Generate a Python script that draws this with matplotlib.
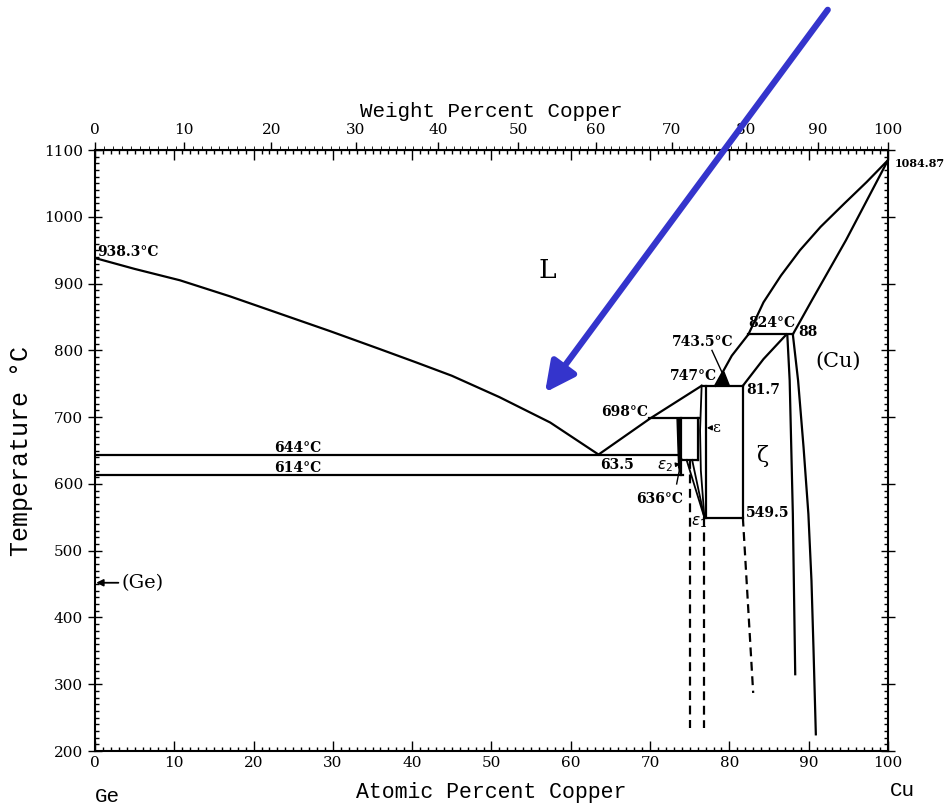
import numpy as np
import matplotlib.pyplot as plt
from matplotlib.ticker import MultipleLocator

# Ge-Cu phase diagram, boundaries (at.% Cu, deg C)
liq_left_x = [0, 5, 10.7, 17, 23.3, 29.6, 35.9, 40.5, 45, 51, 57.4, 63.5]
liq_left_t = [938.3, 922, 905, 881, 855, 829, 802, 782, 762, 730, 692, 644]
liq_right_x = [63.5, 70.0, 76.5]
liq_right_t = [644, 698, 747]
liq_zeta_x = [78.2, 80.3, 82.4]
liq_zeta_t = [747, 792, 824]
zeta_top_x = [81.7, 84.3, 87.2]
zeta_top_t = [747, 787, 824]
liq_cu_x = [82.4, 84.3, 86.5, 88.9, 91.5, 94.5, 97.3, 100]
liq_cu_t = [824, 872, 912, 950, 985, 1020, 1052, 1084.87]
sol_cu_x = [88.0, 90.4, 94.7, 100]
sol_cu_t = [824, 875, 965, 1084.87]
solv_cu1_x = [87.3, 87.6, 88.0, 88.3]
solv_cu1_t = [824, 755, 555, 315]
solv_cu2_x = [88.0, 88.66, 89.35, 89.96, 90.35, 90.6, 90.9]
solv_cu2_t = [824, 755, 655, 555, 455, 355, 225]
eps_left_x = [76.5, 76.3, 76.4, 76.85]
eps_left_t = [747, 680, 620, 549.5]

# invariant lines: (temperature, x start, x end)
isotherms = [(644, 0, 73.6), (614, 0, 74.2), (698, 69.9, 76.2), (747, 76.5, 81.7),
             (549.5, 76.85, 81.7), (636, 73.85, 76.1), (824, 82.4, 88.0)]
# vertical phase limits: (x, t top, t bottom)
verticals = [(73.85, 698, 614), (76.1, 698, 636), (77.1, 747, 549.5), (81.7, 747, 549.5)]
# dashed (uncertain) boundaries
dashed = [([75.0, 75.0], [636, 235]), ([76.8, 76.8], [549.5, 235]), ([81.7, 83.0], [549.5, 287])]

wt_ticks = np.arange(0, 101, 10)


def at2wt(a):
    a = np.asarray(a, dtype=float)
    return 100 * a * 63.546 / (a * 63.546 + (100 - a) * 72.63)


def wt2at(w):
    w = np.asarray(w, dtype=float)
    return 100 * (w / 63.546) / (w / 63.546 + (100 - w) / 72.63)


fig = plt.figure(figsize=(9.47, 8.08), dpi=100)
ax = fig.add_axes([0.1003, 0.0705, 0.8374, 0.7438])
lw = 1.6
k = 'black'

ax.plot(liq_left_x, liq_left_t, color=k, lw=lw)
ax.plot(liq_right_x, liq_right_t, color=k, lw=lw)
ax.plot(liq_zeta_x, liq_zeta_t, color=k, lw=lw)
ax.plot(zeta_top_x, zeta_top_t, color=k, lw=lw)
ax.plot(liq_cu_x, liq_cu_t, color=k, lw=lw)
ax.plot(sol_cu_x, sol_cu_t, color=k, lw=lw)
ax.plot(solv_cu1_x, solv_cu1_t, color=k, lw=lw)
ax.plot(solv_cu2_x, solv_cu2_t, color=k, lw=lw)
ax.plot(eps_left_x, eps_left_t, color=k, lw=1.3)
for t, x0, x1 in isotherms:
    ax.plot([x0, x1], [t, t], color=k, lw=lw)
for x, t0, t1 in verticals:
    ax.plot([x, x], [t0, t1], color=k, lw=lw)
for xs, ts in dashed:
    ax.plot(xs, ts, color=k, lw=lw, ls=(0, (4, 2.5)))

# epsilon1 wedge and small details
ax.plot([74.6, 76.85], [636, 549.5], color=k, lw=1.3)
ax.plot([75.3, 76.85], [636, 549.5], color=k, lw=1.3)
ax.fill([73.4, 73.85, 73.85, 73.6], [698, 698, 614, 625], color=k)
ax.fill([78.4, 80.0, 79.3], [747, 747, 768], color=k)
ax.plot([77.8, 79.65], [800, 752], color=k, lw=1)
ax.plot([73.35, 73.97], [600, 638], color=k, lw=1)

# labels
lab = dict(family='DejaVu Serif', fontsize=10, fontweight='bold')
ax.text(0.3, 947, '938.3°C', ha='left', va='center', **lab)
ax.text(25.6, 654, '644°C', ha='center', va='center', **lab)
ax.text(25.6, 624, '614°C', ha='center', va='center', **lab)
ax.text(65.8, 629, '63.5', ha='center', va='center', **lab)
ax.text(66.8, 708, '698°C', ha='center', va='center', **lab)
ax.text(75.5, 762, '747°C', ha='center', va='center', **lab)
ax.text(76.6, 813, '743.5°C', ha='center', va='center', **lab)
ax.text(85.4, 841, '824°C', ha='center', va='center', **lab)
ax.text(88.7, 828, '88', ha='left', va='center', **lab)
ax.text(82.1, 740, '81.7', ha='left', va='center', **lab)
ax.text(82.1, 556, '549.5', ha='left', va='center', **lab)
ax.text(71.2, 578, '636°C', ha='center', va='center', **lab)
ax.text(100.9, 1080, '1084.87', ha='left', va='center', family='DejaVu Serif',
        fontsize=8, fontweight='bold', clip_on=False)
ax.text(57.1, 920, 'L', ha='center', va='center', family='DejaVu Serif', fontsize=19)
ax.text(93.7, 783, '(Cu)', ha='center', va='center', family='DejaVu Serif', fontsize=15)
ax.text(84.1, 642, 'ζ', ha='center', va='center', family='DejaVu Serif', fontsize=16)
ax.annotate('ε', xy=(77.15, 684), xytext=(77.9, 684), ha='left', va='center',
            family='DejaVu Serif', fontsize=11,
            arrowprops=dict(arrowstyle='-|>', color=k, lw=1, mutation_scale=7, shrinkA=0, shrinkB=0))
ax.annotate(r'$\varepsilon_2$', xy=(73.8, 630), xytext=(72.9, 626), ha='right', va='center',
            fontsize=11,
            arrowprops=dict(arrowstyle='-|>', color=k, lw=1, mutation_scale=6, shrinkA=0, shrinkB=0))
ax.text(76.2, 543, r'$\varepsilon_1$', ha='center', va='center', fontsize=11)
ax.annotate('(Ge)', xy=(0.15, 452), xytext=(3.3, 452), ha='left', va='center',
            family='DejaVu Serif', fontsize=14,
            arrowprops=dict(arrowstyle='-|>', color=k, lw=1.3, mutation_scale=10, shrinkA=0, shrinkB=0))

# axes
ax.set_xlim(0, 100)
ax.set_ylim(200, 1100)
ax.xaxis.set_major_locator(MultipleLocator(10))
ax.xaxis.set_minor_locator(MultipleLocator(1))
ax.yaxis.set_major_locator(MultipleLocator(100))
ax.yaxis.set_minor_locator(MultipleLocator(10))
ax.tick_params(which='both', top=True, right=True, direction='in', width=1)
ax.tick_params(which='major', length=7, labelsize=11)
ax.tick_params(which='minor', length=3)
ax.tick_params(axis='y', which='major', direction='inout', length=10)
for lbl in ax.get_xticklabels() + ax.get_yticklabels():
    lbl.set_family('DejaVu Serif')
for s in ax.spines.values():
    s.set_linewidth(1.5)

sec = ax.secondary_xaxis('top', functions=(at2wt, wt2at))
sec.set_xticks(wt_ticks)
sec.xaxis.set_minor_locator(MultipleLocator(1))
sec.tick_params(which='major', direction='out', length=6, labelsize=11, width=1)
sec.tick_params(which='minor', direction='out', length=3)
for lbl in sec.get_xticklabels():
    lbl.set_family('DejaVu Serif')
sec.set_xlabel('Weight Percent Copper', family='Liberation Mono', fontsize=15, labelpad=4)

ax.set_xlabel('Atomic Percent Copper', family='Liberation Mono', fontsize=15.5, labelpad=9)
ax.set_ylabel('Temperature °C', family='Liberation Mono', fontsize=18, labelpad=8)
fig.text(107 / 947, 1 - 797 / 808, 'Ge', ha='center', va='center', family='Liberation Mono', fontsize=15)
fig.text(902 / 947, 1 - 790 / 808, 'Cu', ha='center', va='center', family='Liberation Mono', fontsize=15)

# blue pointer arrow
ax.annotate('', xy=(56.75, 737), xytext=(92.4, 1310), annotation_clip=False,
            arrowprops=dict(arrowstyle='-|>', color='#3434cc', lw=4.5, mutation_scale=45,
                            shrinkA=0, shrinkB=0))

fig.savefig('out.png', dpi=100)
